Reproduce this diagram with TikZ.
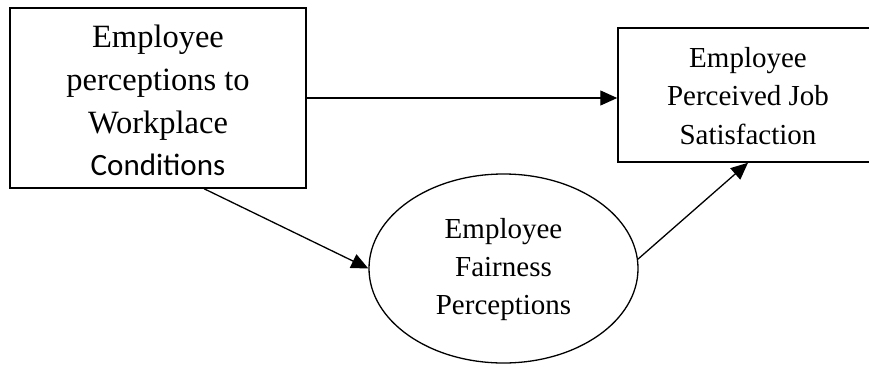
\documentclass[tikz,border=0pt]{standalone}
\usepackage{fontspec}
\setmainfont{Liberation Serif}
\newfontfamily\calib{Carlito}
\usetikzlibrary{shapes.geometric,arrows.meta,calc}
\tikzset{
  boxnode/.style={draw, line width=1.5pt, rectangle, inner sep=0pt, align=center},
  ellnode/.style={draw, line width=1.3pt, ellipse, inner sep=0pt, align=center},
  arr/.style={line width=1.3pt, -{Triangle[length=17pt,width=15pt]}}
}
\begin{document}
\begin{tikzpicture}[x=1pt,y=-1pt]
\useasboundingbox (0,0) rectangle (869,364);
\clip (0,0) rectangle (869,364);
\node[boxnode, minimum width=296pt, minimum height=180pt,
      font=\fontsize{32.5pt}{42.7pt}\selectfont] (wc) at (158,98)
  {\rule{0pt}{28pt}Employee\\perceptions to\\Workplace\\{\calib\fontsize{31pt}{42.7pt}\selectfont Conditions}};
\node[boxnode, minimum width=260pt, minimum height=134pt,
      font=\fontsize{29pt}{38.5pt}\selectfont] (js) at (748,95)
  {\rule{0pt}{22pt}Employee\\Perceived Job\\Satisfaction};
\node[ellnode, minimum width=269pt, minimum height=189pt,
      font=\fontsize{29pt}{38pt}\selectfont] (fp) at (503.5,268.5)
  {\rule{0pt}{22pt}Employee\\Fairness\\Perceptions};
\draw[arr] (wc.east) -- (wc.east -| js.west);
\draw[arr] ($(wc.south west)!0.655!(wc.south east)$) -- (fp.west);
\draw[arr] (fp.4) -- (js.south);
\end{tikzpicture}
\end{document}
